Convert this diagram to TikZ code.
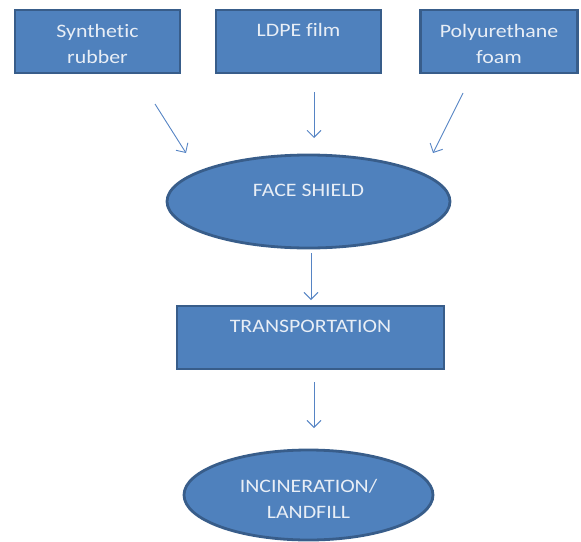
\documentclass[tikz,border=0pt]{standalone}
\usepackage{fontspec}
\setmainfont[FakeStretch=1.15,RawFeature={-liga}]{Carlito}
\usetikzlibrary{shapes.geometric,arrows.meta}
\definecolor{fillblue}{RGB}{79,129,189}
\definecolor{edgeblue}{RGB}{56,93,138}
\definecolor{txtcol}{RGB}{232,238,246}
\definecolor{arrowblue}{RGB}{86,132,196}
\tikzset{
  box/.style={draw=edgeblue, line width=2.8pt, fill=fillblue, rectangle, inner sep=0pt},
  oval/.style={draw=edgeblue, line width=2.8pt, fill=fillblue, ellipse, inner sep=0pt},
  lbl/.style={text=txtcol, font=\fontsize{19}{26}\selectfont, align=center, inner sep=0pt},
  flow/.style={draw=arrowblue, line width=0.9pt, -{Straight Barb[length=7pt,width=14pt]}}
}
\begin{document}
\begin{tikzpicture}[x=1pt,y=-1pt]
\useasboundingbox (0,0) rectangle (581,541);
% top boxes
\node[box, minimum width=165pt, minimum height=63pt] (b1) at (97.5,41.5) {};
\node[box, minimum width=165pt, minimum height=63pt] (b2) at (298.5,41.5) {};
\node[box, minimum width=157pt, minimum height=63pt] (b3) at (499,41.5) {};
\node[lbl] (t1) at (97.5,44) {Synthetic\\rubber};
\node[lbl] (t2) at (298.5,30) {LDPE film};
\node[lbl] (t3) at (499,44) {Polyurethane\\foam};
% face shield
\node[oval, minimum width=283pt, minimum height=93pt] (fs) at (308.5,201.5) {};
\node[lbl] (tfs) at (308.5,190) {FACE SHIELD};
% transportation
\node[box, minimum width=267pt, minimum height=63pt] (tr) at (310.5,337.5) {};
\node[lbl] (ttr) at (310.5,326) {TRANSPORTATION};
% incineration
\node[oval, minimum width=249pt, minimum height=90pt] (inc) at (308.5,495) {};
\node[lbl] (tinc) at (308.5,498.5) {INCINERATION/\\LANDFILL};
% arrow end points
\coordinate (a1s) at (155,104);
\coordinate (a1e) at (186,153);
\coordinate (a2s) at (314,92);
\coordinate (a2e) at (314,138);
\coordinate (a3s) at (463,93);
\coordinate (a3e) at (433,153);
\coordinate (a4s) at (311,253);
\coordinate (a4e) at (311,300);
\coordinate (a5s) at (314,382);
\coordinate (a5e) at (314,428);
\draw[flow] (a1s) -- (a1e);
\draw[flow] (a2s) -- (a2e);
\draw[flow] (a3s) -- (a3e);
\draw[flow] (a4s) -- (a4e);
\draw[flow] (a5s) -- (a5e);
\end{tikzpicture}
\end{document}
